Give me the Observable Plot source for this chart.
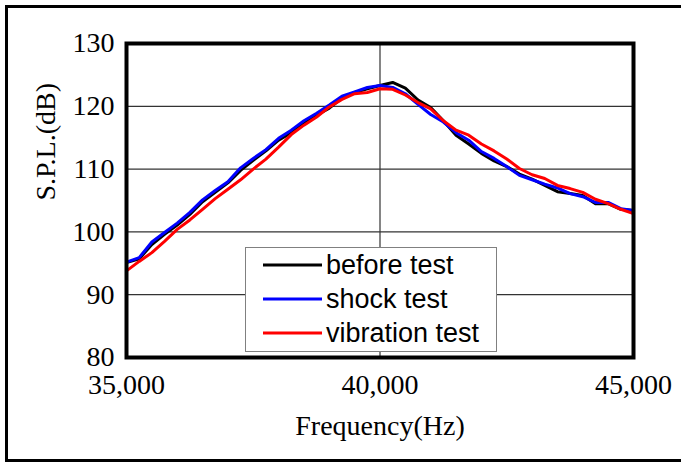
<!DOCTYPE html>
<html>
<head>
<meta charset="utf-8">
<script src="https://cdn.jsdelivr.net/npm/d3@7"></script>
<script src="https://cdn.jsdelivr.net/npm/@observablehq/plot@0.6"></script>
<style>
  html, body { margin: 0; padding: 0; background: #fff; }
  #wrap { position: relative; width: 681px; height: 464px; overflow: hidden; }
  #border { position: absolute; left: 5px; top: 5px; width: 690px; height: 451px; border: 3px solid #000; box-sizing: content-box; }
  #chart { position: absolute; left: 0; top: 0; }
  #legend { position: absolute; left: 245px; top: 247px; width: 250px; height: 103px; border: 1.5px solid #808080; background: #fff;
            font-family: "Liberation Sans", Arial, sans-serif; font-size: 27px; color: #000; }
  .row { position: absolute; left: 17px; height: 34px; display: flex; align-items: center; }
  .row svg { margin-right: 4px; }
</style>
</head>
<body>
<div id="wrap">
  <div id="border"></div>
  <div id="chart"></div>
  <div id="legend"></div>
</div>
<script>
const freq = [35000,35250,35500,35750,36000,36250,36500,36750,37000,37250,37500,37750,38000,38250,38500,38750,39000,39250,39500,39750,
              40000,40250,40500,40750,41000,41250,41500,41750,42000,42250,42500,42750,43000,43250,43500,43750,44000,44250,44500,44750,45000];
const beforeTest = [95.1,95.7,98.0,99.6,101.1,102.8,104.8,106.3,107.8,109.8,111.4,112.9,114.6,115.8,117.3,118.6,119.7,121.3,122.2,122.8,
                    123.3,123.8,122.9,121.0,119.8,117.7,115.4,114.0,112.5,111.3,110.4,109.2,108.4,107.4,106.4,106.1,105.8,104.5,104.5,103.6,103.4];
const shockTest = [95.2,95.9,98.4,99.9,101.4,103.1,105.1,106.6,108.0,110.2,111.7,113.1,114.9,116.2,117.7,118.9,120.2,121.6,122.3,123.0,
                   123.3,123.0,122.0,120.3,118.7,117.5,115.8,114.6,112.8,111.7,110.4,109.0,108.3,107.6,107.0,106.1,105.6,104.7,104.7,103.7,103.4];
const vibrationTest = [93.8,95.3,96.7,98.5,100.4,101.9,103.6,105.3,106.8,108.3,110.0,111.6,113.5,115.5,117.0,118.3,119.9,121.1,122.0,122.2,
                       122.8,122.7,121.8,120.6,119.6,117.7,116.2,115.4,114.0,112.9,111.6,110.1,109.1,108.5,107.4,106.9,106.3,105.2,104.5,103.6,102.9];
const seriesNames = ["before test", "shock test", "vibration test"];
const seriesColors = ["#000000", "#0000ff", "#ff0000"];
const yTicks = [80, 90, 100, 110, 120, 130];
const xTicks = [35000, 40000, 45000];
const yGrid = [90, 100, 110, 120];
const xGrid = [40000];

const seriesValues = [beforeTest, shockTest, vibrationTest];
const data = [];
seriesNames.forEach((name, i) => {
  freq.forEach((f, j) => data.push({series: name, f, v: seriesValues[i][j]}));
});

const plot = Plot.plot({
  width: 681,
  height: 464,
  marginLeft: 126,
  marginRight: 48,
  marginTop: 43,
  marginBottom: 107,
  style: {fontFamily: "'Liberation Serif', 'Times New Roman', serif", fontSize: "28px", background: "transparent", color: "#000"},
  x: {domain: [35000, 45000], ticks: xTicks, tickFormat: d3.format(","), tickSize: 0, tickPadding: 17, label: null},
  y: {domain: [80, 130], ticks: yTicks, tickSize: 0, tickPadding: 12, label: null},
  color: {domain: seriesNames, range: seriesColors},
  marks: [
    Plot.ruleY(yGrid, {stroke: "#333", strokeWidth: 1.2}),
    Plot.ruleX(xGrid, {stroke: "#333", strokeWidth: 1.2}),
    Plot.line(data, {x: "f", y: "v", z: "series", stroke: "series", strokeWidth: 3, curve: "linear"}),
    Plot.frame({stroke: "#000", strokeWidth: 4}),
    Plot.text(["Frequency(Hz)"], {frameAnchor: "bottom", dy: 77, text: d => d, fontSize: 28}),
    Plot.text(["S.P.L.(dB)"], {frameAnchor: "left", dx: -80, rotate: -90, text: d => d, fontSize: 28})
  ]
});
document.getElementById("chart").appendChild(plot);

const legend = document.getElementById("legend");
seriesNames.forEach((name, i) => {
  const row = document.createElement("div");
  row.className = "row";
  row.style.top = (i * 34 + 0) + "px";
  row.innerHTML = `<svg width="59" height="6"><line x1="0" y1="3" x2="59" y2="3" stroke="${seriesColors[i]}" stroke-width="3"/></svg><span>${name}</span>`;
  legend.appendChild(row);
});
</script>
</body>
</html>
